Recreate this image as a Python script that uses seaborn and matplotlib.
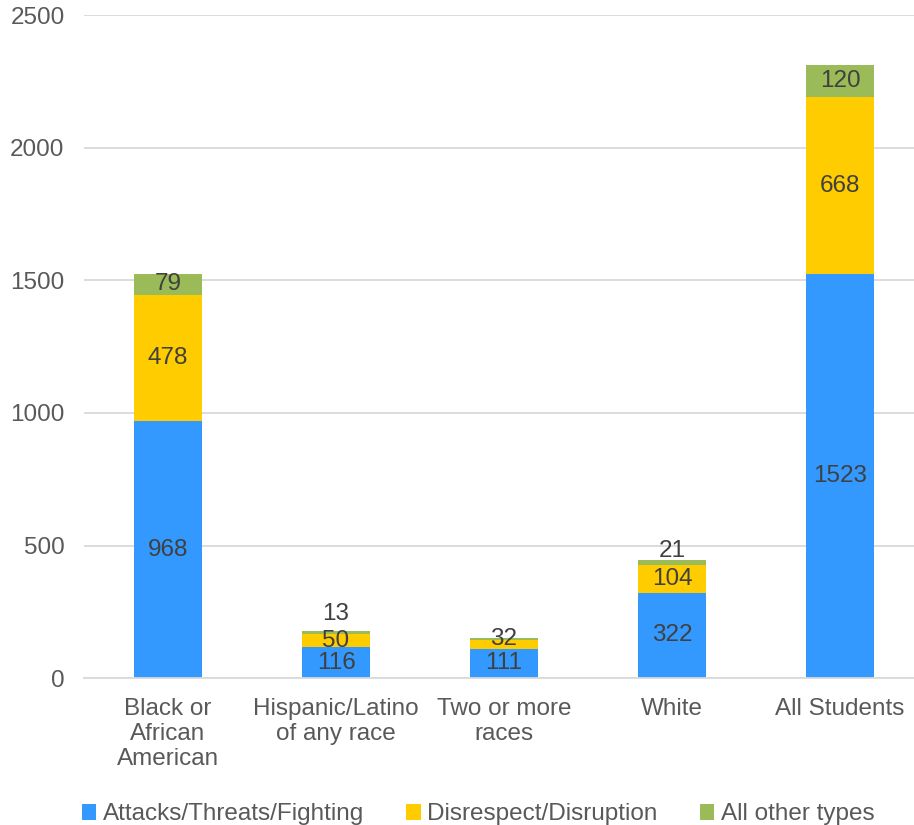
import matplotlib
matplotlib.use("Agg")
import matplotlib.pyplot as plt
import seaborn as sns
import numpy as np

# Data
categories = ["Black or\nAfrican\nAmerican", "Hispanic/Latino\nof any race",
              "Two or more\nraces", "White", "All Students"]
attacks = [968, 116, 111, 322, 1523]
disrespect = [478, 50, 32, 104, 668]
other = [79, 13, 8, 21, 120]
# labels shown for the "All other types" segment (None = hidden in original)
other_labels = ["79", "13", None, "21", "120"]
series_names = ["Attacks/Threats/Fighting", "Disrespect/Disruption", "All other types"]
colors = ["#3399FF", "#FFCC00", "#9BBB59"]

sns.set_theme(style="white")
plt.rcParams["font.family"] = ["Liberation Sans", "DejaVu Sans"]

fig = plt.figure(figsize=(9.14, 8.25), dpi=100)
ax = fig.add_axes([0.0919, 0.178, 0.9081, 0.8038])

layers = [attacks, disrespect, other]
bottom = np.zeros(len(categories))
for vals, name, col in zip(layers, series_names, colors):
    sns.barplot(x=categories, y=vals, bottom=bottom, color=col, width=0.4,
                label=name, ax=ax, saturation=1, linewidth=0)
    bottom = bottom + np.array(vals)

# data labels
fs = 17.5
label_kw = dict(ha="center", fontsize=fs, color="#404040")
for i in range(len(categories)):
    a, d, o = attacks[i], disrespect[i], other[i]
    ax.text(i, a / 2, str(a), va="center", **label_kw)
    if d < 40:
        ax.text(i, a + d + 3, str(d), va="center", **label_kw)
    else:
        ax.text(i, a + d / 2, str(d), va="center", **label_kw)
    if other_labels[i] is None:
        continue
    total = a + d + o
    if o < 30:
        extra = 22 if d > 40 and d < 80 else -8
        ax.text(i, total + extra, other_labels[i], va="bottom", **label_kw)
    else:
        ax.text(i, a + d + o / 2, other_labels[i], va="center", **label_kw)

ax.set_ylim(0, 2500)
ax.set_xlim(-0.5, 4.44)
ax.set_yticks([0, 500, 1000, 1500, 2000, 2500])
ax.yaxis.grid(True, color="#D9D9D9", linewidth=1.3)
ax.set_axisbelow(True)
for s in ["top", "right", "left"]:
    ax.spines[s].set_visible(False)
ax.spines["bottom"].set_color("#D9D9D9")
ax.spines["bottom"].set_linewidth(1.3)
ax.tick_params(axis="y", labelsize=fs, labelcolor="#595959", length=0, pad=14)
ax.tick_params(axis="x", labelsize=fs, labelcolor="#595959", length=0, pad=14)
for t in ax.get_xticklabels():
    t.set_linespacing(1.2)
ax.set_xlabel("")
ax.set_ylabel("")

handles, labels = ax.get_legend_handles_labels()
if ax.legend_:
    ax.legend_.remove()
fig.legend(handles, labels, loc="lower center", bbox_to_anchor=(0.523, -0.027),
           ncol=3, frameon=False, fontsize=fs, labelcolor="#595959",
           handlelength=0.6, handleheight=0.6, handletextpad=0.25,
           columnspacing=1.75)

fig.savefig("out.png", dpi=100)
